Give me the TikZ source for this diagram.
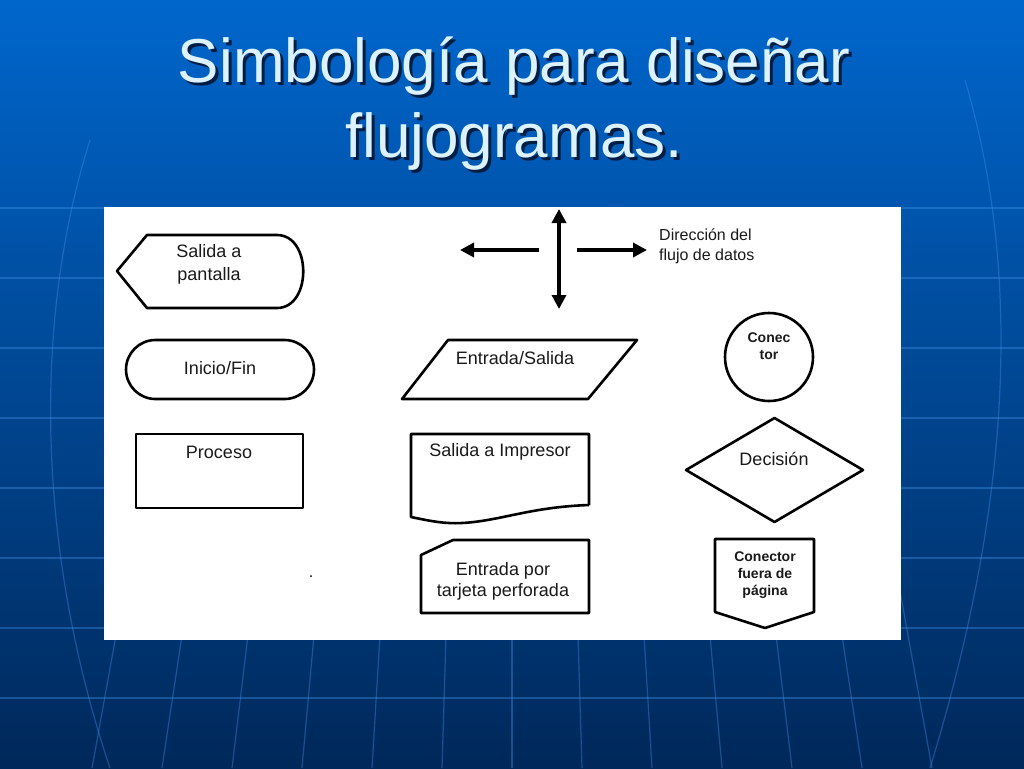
\documentclass[tikz,border=0pt]{standalone}
\usepackage{fontspec}
\setmainfont{Liberation Sans}
\usetikzlibrary{arrows.meta}
\definecolor{ctop}{HTML}{0066CC}
\definecolor{cmid}{HTML}{0050A6}
\definecolor{cbot}{HTML}{00285A}
\definecolor{cgrid}{HTML}{3C8FE6}
\definecolor{ctit}{HTML}{DDF2FF}
\definecolor{cshad}{HTML}{001E44}
\definecolor{cink}{HTML}{1A1A1A}
\newcommand{\sombra}[1]{\makebox[0pt][l]{\hspace{3pt}\raisebox{-3pt}{\color{cshad}#1}}#1}

\begin{document}
\begin{tikzpicture}[x=1pt,y=-1pt,>={Triangle[length=14pt,width=14pt]},
    sym/.style={draw=black,line width=2.6pt,line join=round},
    lbl/.style={text=cink,font=\fontsize{18}{23}\selectfont,align=center,inner sep=0pt},
    lblb/.style={text=cink,font=\bfseries\fontsize{14}{17}\selectfont,align=center,inner sep=0pt},
    globe/.style={cgrid,opacity=0.4,line width=1.2pt},
    flow/.style={line width=3.4pt,->},
    titulo/.style={text=ctit,font=\fontsize{62}{75}\selectfont,anchor=base}]
    \useasboundingbox (0,0) rectangle (1024,768);
    \shade[top color=ctop,middle color=cmid,bottom color=cbot] (0,0) rectangle (1024,768);
    % rejilla del globo
    \foreach \h in {208,278,...,698}
      \draw[globe] (0,\h) -- (1024,\h);
    \foreach \k in {-6,...,6}
      \draw[globe] ({512+70*\k*0.7585},207) -- ({512+70*\k},768);
    \draw[globe] (90,140) .. controls (30,330) and (40,560) .. (110,768);
    \draw[globe] (965,80) .. controls (1030,300) and (1000,540) .. (930,768);
    % titulo
    \node[titulo] (tituloA) at (514,82) {\sombra{Simbología para diseñar}};
    \node[titulo] (tituloB) at (514,157) {\sombra{flujogramas.}};
    % panel
    \fill[white] (104,207) rectangle (901,640);
    \draw[sym] (117,271) -- (147,235) -- (277,235) .. controls (312,235) and (312,308) .. (277,308) -- (147,308) -- cycle;
    \node[lbl] (pantalla) at (209,264) {Salida a\\pantalla};
    \draw[sym,rounded corners=29.5pt] (126,340) rectangle (314,399);
    \node[lbl] (inicio) at (220,368) {Inicio/Fin};
    \draw[sym] (136,434) rectangle (303,508);
    \node[lbl] (proceso) at (219,452) {Proceso};
    \fill[black] (311,576) circle[radius=1pt];
    % flechas de direccion
    \coordinate (cruzN) at (559,209);
    \coordinate (cruzS) at (559,309);
    \coordinate (cruzO) at (539,250);
    \coordinate (cruzOf) at (460,250);
    \coordinate (cruzE) at (577,250);
    \coordinate (cruzEf) at (647,250);
    \draw[flow,<->] (cruzN) -- (cruzS);
    \draw[flow] (cruzO) -- (cruzOf);
    \draw[flow] (cruzE) -- (cruzEf);
    \node[lbl,anchor=west,align=left,font=\fontsize{16}{20}\selectfont] (direccion) at (659,246) {Dirección del\\flujo de datos};
    \draw[sym] (448,340) -- (637,340) -- (588,399) -- (402,399) -- cycle;
    \node[lbl] (entrada) at (515,358) {Entrada/Salida};
    \draw[sym] (589,505) -- (589,434) -- (411,434) -- (411,517) .. controls (430,521) and (445,524) .. (462,523) .. controls (500,521) and (530,507) .. (589,505);
    \node[lbl] (impresor) at (500,452) {Salida a Impresor};
    \draw[sym] (453,540) -- (589,540) -- (589,613) -- (421,613) -- (421,555) -- cycle;
    \node[lbl,font=\fontsize{18}{21}\selectfont] (tarjeta) at (503,581) {Entrada por\\tarjeta perforada};
    \draw[sym] (769,357) circle[radius=44pt];
    \node[lblb] (conector) at (769,346) {Conec\\tor};
    \draw[sym] (686,470) -- (774.5,418) -- (863,470) -- (774.5,522) -- cycle;
    \node[lbl] (decision) at (774,459) {Decisión};
    \draw[sym] (715,539) -- (814,539) -- (814,612) -- (765,628) -- (715,612) -- cycle;
    \node[lblb] (fuera) at (765,575) {Conector\\fuera de\\página};
  \end{tikzpicture}
\end{document}
